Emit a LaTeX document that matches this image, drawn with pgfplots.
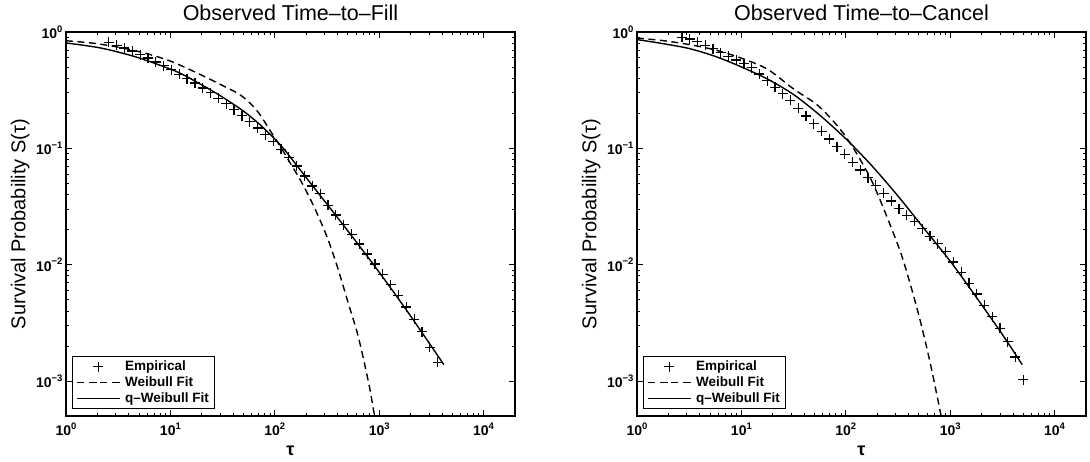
\documentclass[border=0pt]{standalone}
\usepackage{fontspec}
\setmainfont{Liberation Sans}
\usepackage{pgfplots}
\usepackage{pgfplotstable}
\pgfplotsset{compat=1.18}

% tick label: 10 with a raised exponent
\newcommand{\tl}[1]{10\raisebox{0.45em}{\fontsize{9.5}{9.5}\selectfont #1}}
\newcommand{\mi}{{\char"2212}}

% ---------- Time-to-Fill ----------
\pgfplotstableread{
tau S
2.570 0.815
3.055 0.771
3.631 0.730
4.315 0.686
5.129 0.640
6.095 0.597
7.244 0.553
8.610 0.512
10.23 0.473
12.16 0.434
14.45 0.398
17.18 0.364
20.42 0.3306
24.27 0.3006
28.84 0.2698
34.28 0.2411
40.74 0.2153
48.42 0.1908
57.54 0.1690
68.39 0.1493
81.28 0.1311
96.61 0.1151
114.8 0.0984
136.5 0.0836
162.2 0.0706
192.8 0.0578
229.1 0.0474
272.3 0.0409
323.6 0.0323
384.6 0.0267
457.1 0.0221
543.3 0.01826
645.7 0.01508
767.4 0.01237
912.0 0.01014
1084 0.00828
1288 0.00673
1531 0.00547
1820 0.00433
2163 0.00340
2570 0.00265
3055 0.00195
3631 0.00145
}\fillemp

\pgfplotstableread{
tau S
1 0.841
1.778 0.8035
3.162 0.741
5.623 0.661
10 0.5623
17.78 0.4467
31.62 0.3467
44.67 0.2951
56.23 0.2512
70.79 0.1995
89.13 0.1445
112.2 0.1047
141.3 0.0741
177.8 0.0525
237.1 0.0316
316.2 0.01738
398.1 0.00955
501.2 0.00479
631.0 0.00240
794.3 0.000955
891.3 0.000537
933.3 0.000447
}\fillweib

\pgfplotstableread{
tau S
1 0.805
2.138 0.7295
4.467 0.618
8.128 0.514
12.59 0.4395
23.44 0.3236
31.62 0.2754
50.12 0.2089
70.79 0.1622
100 0.1202
125.9 0.0955
199.5 0.0562
316.2 0.0331
501.2 0.0195
1000 0.00861
1995 0.00363
4169 0.00138
}\fillqweib

% ---------- Time-to-Cancel ----------
\pgfplotstableread{
tau S
2.692 0.9016
3.194 0.8700
3.790 0.8281
4.497 0.7710
5.337 0.7169
6.333 0.6661
7.514 0.6188
8.916 0.5746
10.58 0.5325
12.55 0.4935
14.89 0.4361
17.67 0.3803
20.97 0.3345
24.88 0.2959
29.52 0.2579
35.03 0.2214
41.57 0.1900
49.33 0.1633
58.54 0.1403
69.46 0.1203
82.41 0.1033
97.79 0.08858
116.0 0.07597
137.7 0.06524
163.4 0.05604
193.9 0.04805
230.1 0.04121
273.0 0.03531
323.9 0.03025
384.3 0.02666
456.0 0.02360
541.1 0.02045
642.0 0.01758
761.9 0.01515
904.0 0.01291
1073 0.01053
1273 0.00859
1511 0.00694
1792 0.00560
2127 0.00449
2523 0.00357
2994 0.00283
3553 0.00217
4216 0.00161
5012 0.001023
}\cancemp

\pgfplotstableread{
tau S
1 0.887
1.778 0.843
3.162 0.780
5.623 0.700
10 0.596
17.78 0.4786
31.62 0.3236
56.23 0.2265
100 0.1259
177.8 0.0521
316.2 0.01472
398.1 0.00771
501.2 0.00366
631.0 0.00155
794.3 0.000575
831.8 0.000464
}\cancweib

\pgfplotstableread{
tau S
1 0.861
1.778 0.794
3.162 0.721
5.623 0.617
10 0.501
17.78 0.394
31.62 0.290
56.23 0.193
100 0.1208
177.8 0.0708
316.2 0.0389
562.3 0.0204
1000 0.01072
1778 0.00525
3162 0.00251
4898 0.00138
}\cancqweib

% shared axis appearance
\pgfplotsset{
  legend image code/.code={\draw[mark repeat=2,mark phase=2,#1] plot coordinates {(0pt,0pt) (21pt,0pt) (42pt,0pt)};},
  every axis/.append style={
    xmode=log, ymode=log,
    scale only axis, width=449pt, height=384pt,
    anchor=south west,
    xmin=1, xmax=2e4, ymin=5e-4, ymax=1,
    axis line style={line width=1.5pt},
    every tick/.style={black, line width=0.9pt},
    major tick length=6pt, minor tick length=3.5pt,
    xtick={1,10,100,1000,10000},
    xticklabels={\tl{0},\tl{1},\tl{2},\tl{3},\tl{4}},
    ytick={0.001,0.01,0.1,1},
    yticklabels={\tl{\mi3},\tl{\mi2},\tl{\mi1},\tl{0}},
    tick label style={font=\bfseries\fontsize{14}{14}\selectfont},
    xticklabel style={yshift=-3pt},
    title style={font=\fontsize{21.5}{24}\selectfont, at={(axis description cs:0.5,1)}, anchor=base, yshift=6pt},
    xlabel={τ},
    xlabel style={font=\bfseries\fontsize{18}{18}\selectfont, at={(axis description cs:0.5,-0.1016)}, anchor=base},
    ylabel={Survival Probability S(τ)},
    ylabel style={font=\fontsize{20}{20}\selectfont, at={(axis description cs:-0.102,0.5)}, anchor=center},
    legend style={at={(axis description cs:0.0134,0.018)}, anchor=south west,
      draw=black, line width=1.3pt, fill=white,
      font=\bfseries\fontsize{13.5}{15}\selectfont,
      inner xsep=4pt, inner ysep=2.5pt, row sep=0.5pt, column sep=3pt,
      cells={anchor=west}},
    legend cell align=left,
  },
  emp/.style={only marks, mark=+, mark size=5pt, mark options={line width=1.2pt, black}},
  weib/.style={black, line width=1.4pt, dash pattern=on 7pt off 4.5pt, smooth},
  qweib/.style={black, line width=1.4pt, solid, smooth},
}

\begin{document}
\begin{tikzpicture}
\useasboundingbox (0,0) rectangle (1090pt,461pt);

\begin{axis}[at={(66pt,45pt)}, title={Observed Time–to–Fill}]
  \addplot[emp] table[x=tau, y=S] {\fillemp};
  \addlegendentry{Empirical}
  \addplot[weib] table[x=tau, y=S] {\fillweib};
  \addlegendentry{Weibull Fit}
  \addplot[qweib] table[x=tau, y=S] {\fillqweib};
  \addlegendentry{q–Weibull Fit}
\end{axis}

\begin{axis}[at={(637pt,45pt)}, title={Observed Time–to–Cancel}]
  \addplot[emp] table[x=tau, y=S] {\cancemp};
  \addlegendentry{Empirical}
  \addplot[weib] table[x=tau, y=S] {\cancweib};
  \addlegendentry{Weibull Fit}
  \addplot[qweib] table[x=tau, y=S] {\cancqweib};
  \addlegendentry{q–Weibull Fit}
\end{axis}
\end{tikzpicture}
\end{document}
